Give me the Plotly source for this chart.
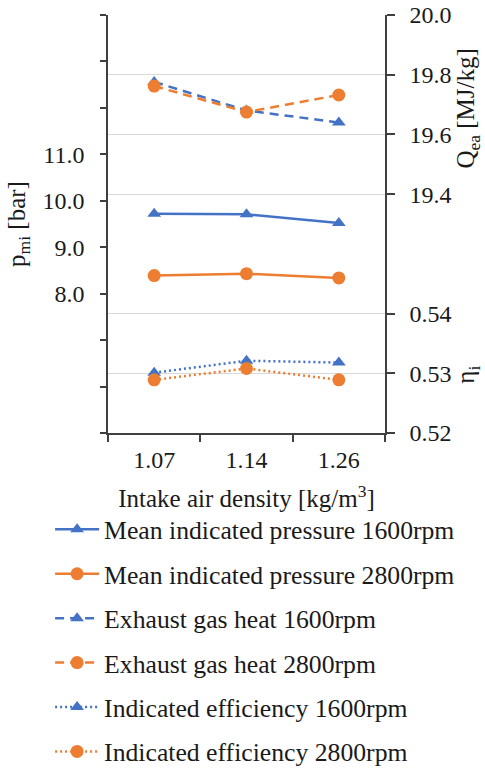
import plotly.graph_objects as go

density = ["1.07", "1.14", "1.26"]
pmi_1600 = [9.72, 9.71, 9.52]
pmi_2800 = [8.39, 8.43, 8.34]
qea_1600 = [19.776, 19.68, 19.64]
qea_2800 = [19.762, 19.675, 19.732]
eta_1600 = [0.5301, 0.5321, 0.5318]
eta_2800 = [0.5289, 0.5308, 0.5289]

left_ticks = [5, 6, 7, 8, 9, 10, 11, 12, 13, 14]
left_labels = ["", "", "", "8.0", "9.0", "10.0", "11.0", "", "", ""]
q_ticks = [19.4, 19.6, 19.8, 20.0]
q_labels = ["19.4", "19.6", "19.8", "20.0"]
q_extra_grid = [19.2]
eta_ticks = [0.52, 0.53, 0.54]
eta_labels = ["0.52", "0.53", "0.54"]

BLUE = "#4472C4"
ORANGE = "#ED7D31"
FONT = "Liberation Serif"
AX = "#404040"
GRID = "#D9D9D9"
TXT = "#1a1a1a"

fig = go.Figure()

def add(name, y, color, symbol, dash, yaxis, grp):
    fig.add_trace(go.Scatter(
        x=density, y=y, name=name, yaxis=yaxis, mode="lines+markers",
        legendgroup=grp,
        line=dict(color=color, width=2.5, dash=dash),
        marker=dict(color=color, size=13 if symbol == "circle" else 12, symbol=symbol),
    ))

add("Mean indicated pressure 1600rpm", pmi_1600, BLUE, "triangle-up", "solid", "y", "a")
add("Mean indicated pressure 2800rpm", pmi_2800, ORANGE, "circle", "solid", "y", "b")
add("Exhaust gas heat 1600rpm", qea_1600, BLUE, "triangle-up", "9px,6px", "y2", "c")
add("Exhaust gas heat 2800rpm", qea_2800, ORANGE, "circle", "9px,6px", "y2", "d")
add("Indicated efficiency 1600rpm", eta_1600, BLUE, "triangle-up", "2px,3px", "y3", "e")
add("Indicated efficiency 2800rpm", eta_2800, ORANGE, "circle", "2px,3px", "y3", "f")

tickfont = dict(family=FONT, size=24, color=TXT)

fig.update_layout(
    width=485, height=771,
    margin=dict(l=108, r=100, t=15, b=338, autoexpand=False),
    paper_bgcolor="white", plot_bgcolor="white",
    font=dict(family=FONT, size=24, color=TXT),
    showlegend=True,
    xaxis=dict(
        type="category", range=[-0.5, 2.5], tickson="boundaries",
        ticks="outside", ticklen=7, tickcolor=AX, tickwidth=1.5,
        showline=True, linecolor=AX, linewidth=1.5, showgrid=False,
        tickfont=tickfont, automargin=False, ticklabelstandoff=4,
        title=dict(text="Intake air density [kg/m<sup>3</sup>]", font=dict(family=FONT, size=25, color=TXT), standoff=18),
    ),
    yaxis=dict(
        range=[5, 14], tickmode="array", tickvals=left_ticks, ticktext=left_labels,
        ticks="outside", ticklen=6, tickcolor=AX, tickwidth=1.5,
        showline=True, linecolor=AX, linewidth=1.5, showgrid=False, zeroline=False,
        tickfont=tickfont, automargin=False, ticklabelstandoff=11,
        title=dict(text="p<sub>mi</sub> [bar]", font=dict(family=FONT, size=25, color=TXT), standoff=10),
    ),
    yaxis4=dict(
        overlaying="y", side="right", anchor="x",
        range=[18.6, 20.0], tickmode="array", tickvals=q_extra_grid,
        showticklabels=False, ticks="", showline=False,
        showgrid=True, gridcolor=GRID, gridwidth=1.2, zeroline=False, automargin=False,
    ),
    yaxis2=dict(
        overlaying="y", side="right", anchor="x",
        range=[18.6, 20.0], tickmode="array", tickvals=q_ticks, ticktext=q_labels,
        ticks="outside", ticklen=8, tickcolor=AX, tickwidth=1.5,
        showline=True, linecolor=AX, linewidth=1.5,
        showgrid=True, gridcolor=GRID, gridwidth=1.2, zeroline=False,
        tickfont=tickfont, automargin=False, ticklabelstandoff=10,
        ticklabeloverflow="allow",
    ),
    yaxis3=dict(
        overlaying="y", side="right", anchor="x",
        range=[0.52, 0.59], tickmode="array", tickvals=eta_ticks, ticktext=eta_labels,
        ticks="outside", ticklen=8, tickcolor=AX, tickwidth=1.5,
        showline=True, linecolor=AX, linewidth=1.5,
        showgrid=True, gridcolor=GRID, gridwidth=1.2, zeroline=False,
        tickfont=tickfont, automargin=False, ticklabelstandoff=10,
    ),
    legend=dict(
        x=-0.209, y=-0.175, xanchor="left", yanchor="top",
        font=dict(family=FONT, size=25.7, color=TXT),
        tracegroupgap=8, itemwidth=44, bgcolor="rgba(0,0,0,0)",
    ),
    annotations=[
        dict(text="Q<sub>ea</sub> [MJ/kg]", xref="paper", yref="y2", x=1.298, y=19.685,
             xanchor="center", yanchor="middle",
             textangle=-90, showarrow=False, font=dict(family=FONT, size=25, color=TXT)),
        dict(text="η<sub>i</sub>", xref="paper", yref="y3", x=1.298, y=0.5297,
             xanchor="center", yanchor="middle",
             textangle=-90, showarrow=False, font=dict(family=FONT, size=25, color=TXT)),
    ],
)

fig.write_html("out.html", config={"displayModeBar": False},
               post_script="document.body.style.margin='0';")
